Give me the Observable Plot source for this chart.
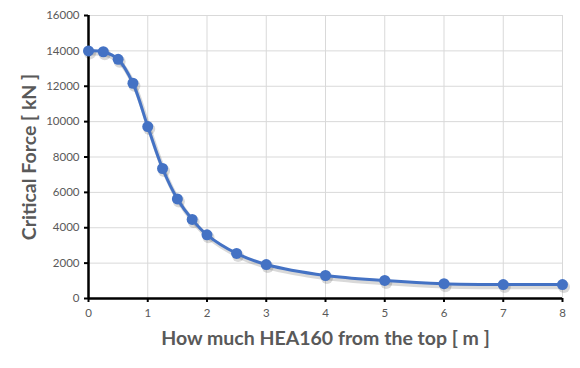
<!DOCTYPE html>
<html>
<head>
<meta charset="utf-8">
<script src="https://cdn.jsdelivr.net/npm/d3@7"></script>
<script src="https://cdn.jsdelivr.net/npm/@observablehq/plot@0.6"></script>
<style>
  html, body { margin: 0; padding: 0; background: #fff; }
  #chart svg { display: block; }
</style>
</head>
<body>
<div id="chart"></div>
<script>
const positions = [0, 0.25, 0.5, 0.75, 1, 1.25, 1.5, 1.75, 2, 2.5, 3, 4, 5, 6, 7, 8];
const criticalForce = [14000, 13950, 13520, 12170, 9720, 7350, 5630, 4470, 3600, 2550, 1920, 1300, 1020, 840, 790, 790];
const xTicks = [0, 1, 2, 3, 4, 5, 6, 7, 8];
const yTicks = [0, 2000, 4000, 6000, 8000, 10000, 12000, 14000, 16000];

const data = positions.map((x, i) => ({x, y: criticalForce[i]}));
const blue = "#4472C4";
const grey = "#595959";

const chart = Plot.plot({
  width: 580,
  height: 368,
  marginLeft: 88,
  marginRight: 18,
  marginTop: 15,
  marginBottom: 70,
  style: {fontFamily: "Lato, 'Open Sans', sans-serif", background: "#fff"},
  x: {domain: [0, 8]},
  y: {domain: [0, 16000]},
  marks: [
    Plot.gridX(xTicks, {stroke: "#d9d9d9", strokeOpacity: 1, strokeWidth: 1}),
    Plot.gridY(yTicks, {stroke: "#d9d9d9", strokeOpacity: 1, strokeWidth: 1}),
    Plot.axisX(xTicks, {tickFormat: d => String(d), tickSize: 4, tickPadding: 6, stroke: "#000", strokeWidth: 2, fill: grey, fontSize: 11.5,
      label: "How much HEA160 from the top [ m ]", labelAnchor: "center", labelArrow: "none", labelOffset: 46}),
    Plot.axisY(yTicks, {tickFormat: d => String(d), tickSize: 4, tickPadding: 5, stroke: "#000", strokeWidth: 2, fill: grey, fontSize: 11.5,
      label: "Critical Force [ kN ]", labelAnchor: "center", labelArrow: "none", labelOffset: 66}),
    Plot.ruleX([0], {stroke: "#000", strokeWidth: 2.5}),
    Plot.ruleY([0], {stroke: "#000", strokeWidth: 2.5}),
    Plot.line(data, {x: "x", y: "y", curve: "catmull-rom", stroke: "#000", strokeOpacity: 0.15, strokeWidth: 4.5, dx: 1.5, dy: 2.5}),
    Plot.dot(data, {x: "x", y: "y", r: 6, fill: "#000", fillOpacity: 0.15, dx: 1.5, dy: 2.5}),
    Plot.line(data, {x: "x", y: "y", curve: "catmull-rom", stroke: blue, strokeWidth: 3}),
    Plot.dot(data, {x: "x", y: "y", r: 5.5, fill: blue})
  ]
});

d3.select(chart).selectAll("g[aria-label='x-axis label'] text, g[aria-label='y-axis label'] text")
  .style("font-size", "19.5px").style("font-weight", "bold").style("fill", grey);

document.getElementById("chart").appendChild(chart);
</script>
</body>
</html>
